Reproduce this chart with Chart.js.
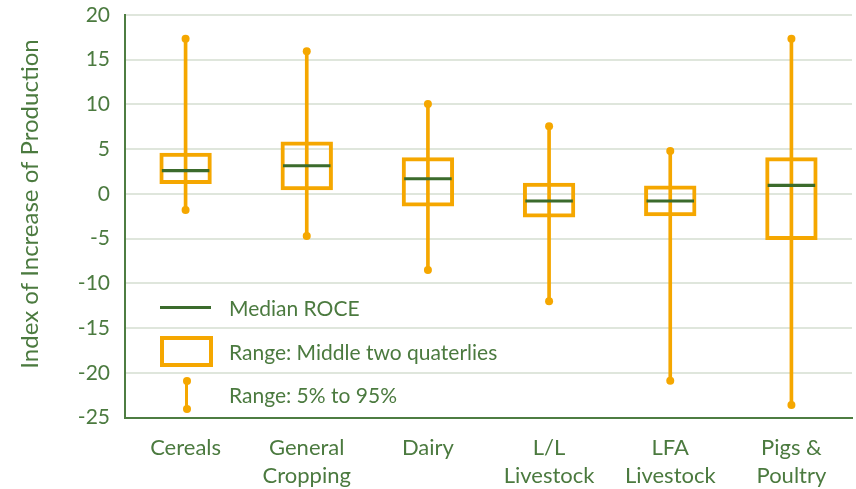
<!DOCTYPE html>
<html>
<head>
<meta charset="utf-8">
<script src="https://cdn.jsdelivr.net/npm/chart.js@4/dist/chart.umd.min.js"></script>
<style>
  body { margin: 0; background: #fff; }
  #wrap { position: relative; width: 856px; height: 489px; }
  #legend { position: absolute; left: 0; top: 0; font-family: Lato, sans-serif; font-size: 21px; color: #4b7a3f; }
  #legend .txt { position: absolute; left: 229px; white-space: nowrap; line-height: 22px; }
  .sym-line { position: absolute; left: 160px; top: 306px; width: 51px; height: 3px; background: #3b6b2c; }
  .sym-box { position: absolute; left: 160px; top: 336px; width: 45px; height: 23px; border: 4px solid #f5a700; }
  .sym-whisk { position: absolute; left: 185px; top: 381px; width: 3px; height: 28px; background: #f5a700; }
  .dot { position: absolute; left: -2.5px; width: 8px; height: 8px; border-radius: 50%; background: #f5a700; }
</style>
</head>
<body>
<div id="wrap">
  <canvas id="chart" width="856" height="489"></canvas>
  <div id="legend">
    <div class="sym-line"></div>
    <div class="txt" style="top:297px">Median ROCE</div>
    <div class="sym-box"></div>
    <div class="txt" style="top:341px">Range: Middle two quaterlies</div>
    <div class="sym-whisk"><div class="dot" style="top:-4px"></div><div class="dot" style="top:24px"></div></div>
    <div class="txt" style="top:384px">Range: 5% to 95%</div>
  </div>
</div>
<script>
// Data
const categories = [['Cereals'], ['General', 'Cropping'], ['Dairy'], ['L/L', 'Livestock'], ['LFA', 'Livestock'], ['Pigs &', 'Poultry']];
const p5 = [-1.8, -4.7, -8.5, -12.0, -20.9, -23.6];
const p95 = [17.35, 15.95, 10.05, 7.55, 4.8, 17.35];
const q1 = [1.1, 0.4, -1.4, -2.65, -2.5, -5.15];
const q3 = [4.6, 5.85, 4.1, 1.25, 0.95, 4.1];
const medians = [2.6, 3.15, 1.7, -0.8, -0.8, 0.95];
const yMin = -25, yMax = 20, yStep = 5;
const yTitle = 'Index of Increase of Production';

const orange = '#f5a700';
const darkGreen = '#3b6b2c';
const textGreen = '#4b7a3f';
const axisGreen = '#4e7d42';
const gridColor = '#dfe6dc';
const fontFamily = 'Lato, sans-serif';

const medianHalf = 0.17;

// y axis title, drawn by hand so it can sit where the reference has it
const yTitlePlugin = {
    id: 'yTitle',
    afterDraw(chart) {
        const c = chart.ctx;
        c.save();
        c.translate(37.5, 204);
        c.rotate(-Math.PI / 2);
        c.font = '24px ' + fontFamily;
        c.fillStyle = textGreen;
        c.textAlign = 'center';
        c.textBaseline = 'alphabetic';
        c.fillText(yTitle, 0, 0);
        c.restore();
    }
};

const ctx = document.getElementById('chart').getContext('2d');
new Chart(ctx, {
    data: {
        labels: categories,
        datasets: [
            {
                type: 'bar',
                label: 'whisker',
                data: p5.map((v, i) => [v, p95[i]]),
                backgroundColor: orange,
                borderWidth: 0,
                barThickness: 3,
                grouped: false,
                order: 4
            },
            {
                type: 'bar',
                label: 'box',
                data: q1.map((v, i) => [v, q3[i]]),
                backgroundColor: 'rgba(0,0,0,0)',
                borderColor: orange,
                borderWidth: 4,
                borderSkipped: false,
                barPercentage: 0.432,
                categoryPercentage: 1,
                grouped: false,
                order: 3
            },
            {
                type: 'bar',
                label: 'median',
                data: medians.map(m => [m - medianHalf, m + medianHalf]),
                backgroundColor: darkGreen,
                borderWidth: 0,
                barPercentage: 0.392,
                categoryPercentage: 1,
                grouped: false,
                order: 2
            },
            {
                type: 'line',
                label: 'top',
                data: p95,
                showLine: false,
                pointRadius: 4,
                pointBorderWidth: 0,
                pointBackgroundColor: orange,
                order: 1
            },
            {
                type: 'line',
                label: 'bottom',
                data: p5,
                showLine: false,
                pointRadius: 4,
                pointBorderWidth: 0,
                pointBackgroundColor: orange,
                order: 1
            }
        ]
    },
    options: {
        responsive: false,
        animation: false,
        events: [],
        layout: { padding: { top: 15, right: 0, left: 0, bottom: 0 } },
        plugins: {
            legend: { display: false },
            tooltip: { enabled: false }
        },
        scales: {
            x: {
                grid: { display: false, drawTicks: false },
                border: { color: axisGreen, width: 2 },
                ticks: {
                    color: textGreen,
                    font: { family: fontFamily, size: 22, lineHeight: 1.27 },
                    padding: 16,
                    maxRotation: 0,
                    autoSkip: false
                },
                afterFit: s => { s.height = 71.5; }
            },
            y: {
                min: yMin,
                max: yMax,
                grid: { color: gridColor, lineWidth: 2, drawTicks: false },
                border: { color: axisGreen, width: 2 },
                ticks: {
                    stepSize: yStep,
                    color: textGreen,
                    font: { family: fontFamily, size: 21 },
                    padding: 15
                },
                afterFit: s => {
                    s.width = 125;
                    s.paddingTop = 0;
                    s.paddingBottom = 0;
                }
            }
        }
    },
    plugins: [yTitlePlugin]
});
</script>
</body>
</html>
